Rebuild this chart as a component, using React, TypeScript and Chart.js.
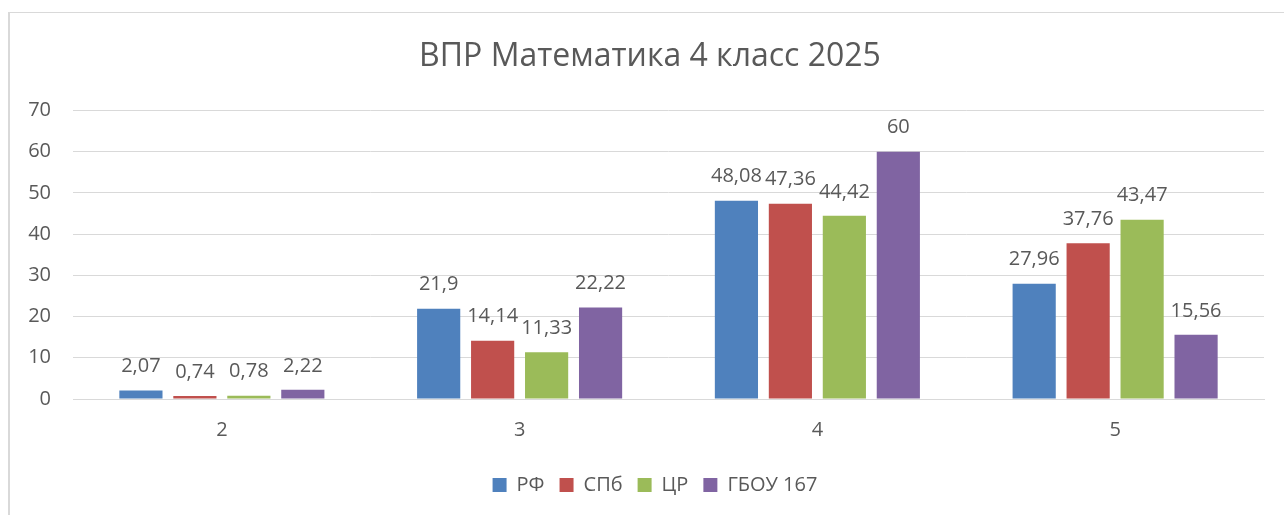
import React, { useEffect, useRef } from 'react';
import { Chart, registerables } from 'chart.js';

Chart.register(...registerables);

const titleText = 'ВПР Математика 4 класс 2025';
const categories = ['2', '3', '4', '5'];
const seriesNames = ['РФ', 'СПб', 'ЦР', 'ГБОУ 167'];
const rfValues = [2.07, 21.9, 48.08, 27.96];
const spbValues = [0.74, 14.14, 47.36, 37.76];
const crValues = [0.78, 11.33, 44.42, 43.47];
const schoolValues = [2.22, 22.22, 60, 15.56];
const seriesColors = ['#4F81BD', '#C0504D', '#9BBB59', '#8064A2'];
const yMin = 0;
const yMax = 70;
const yStep = 10;

const FONT = "'Open Sans', 'Noto Sans', sans-serif";
const TEXT = '#595959';
const GRID = '#d9d9d9';

const fmt = (v: number) => String(v).replace('.', ',');

const dataLabelPlugin = {
  id: 'dataLabels',
  afterDatasetsDraw(chart: any) {
    const ctx = chart.ctx;
    ctx.save();
    ctx.font = `20px ${FONT}`;
    ctx.fillStyle = TEXT;
    ctx.textAlign = 'center';
    ctx.textBaseline = 'middle';
    chart.data.datasets.forEach((ds: any, i: number) => {
      const meta = chart.getDatasetMeta(i);
      meta.data.forEach((el: any, j: number) => {
        ctx.fillText(fmt(ds.data[j]), el.x, el.y - 24);
      });
    });
    ctx.restore();
  },
};

// Shift the centred title/legend boxes slightly right, as in the original frame
const boxShiftPlugin = {
  id: 'boxShift',
  afterLayout(chart: any) {
    if (chart.legend) chart.legend.left = 46;
    if (chart.titleBlock) chart.titleBlock.left = 36;
  },
};

export default function App() {
  const ref = useRef<HTMLCanvasElement | null>(null);

  useEffect(() => {
    if (!ref.current) return;
    const allValues = [rfValues, spbValues, crValues, schoolValues];
    const chart = new Chart(ref.current, {
      type: 'bar',
      data: {
        labels: categories,
        datasets: seriesNames.map((name, i) => ({
          label: name,
          data: allValues[i],
          backgroundColor: seriesColors[i],
          borderWidth: 0,
          categoryPercentage: 0.725,
          barPercentage: 0.8,
        })),
      },
      options: {
        animation: false,
        responsive: false,
        devicePixelRatio: 1,
        layout: { padding: { left: 0, right: 20, top: 0, bottom: 10 } },
        plugins: {
          title: {
            display: true,
            text: titleText,
            color: TEXT,
            font: { family: FONT, size: 32, weight: 'normal' as any },
            padding: { top: 38, bottom: 34 },
          },
          legend: {
            position: 'bottom',
            labels: {
              color: TEXT,
              font: { family: FONT, size: 20 },
              boxWidth: 14,
              boxHeight: 14,
              padding: 15,
            },
          },
          tooltip: { enabled: false },
        },
        scales: {
          x: {
            grid: { display: false, drawTicks: false },
            border: { display: true, color: GRID, width: 1 },
            ticks: { color: TEXT, font: { family: FONT, size: 20 }, padding: 19 },
            afterFit: (s: any) => { s.height = 61; },
          },
          y: {
            min: yMin,
            max: yMax,
            grid: { color: GRID, lineWidth: 1, drawTicks: false },
            border: { display: false },
            ticks: { stepSize: yStep, color: TEXT, font: { family: FONT, size: 20 }, padding: 22 },
            afterFit: (s: any) => { s.width = 73; },
          },
        },
      },
      plugins: [dataLabelPlugin, boxShiftPlugin],
    });
    return () => chart.destroy();
  }, []);

  return (
    <div style={{ position: 'fixed', left: 0, top: 0, width: 1284, height: 515, background: '#fff', overflow: 'hidden' }}>
      <canvas ref={ref} width={1284} height={515} style={{ display: 'block' }} />
      <div
        style={{
          position: 'absolute',
          left: 8,
          top: 12,
          right: -10,
          bottom: -10,
          borderLeft: `2px solid ${GRID}`,
          borderTop: `1px solid ${GRID}`,
          pointerEvents: 'none',
        }}
      />
    </div>
  );
}
